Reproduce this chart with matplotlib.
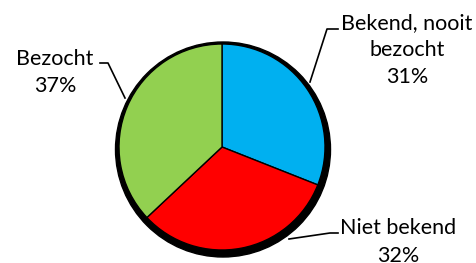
import matplotlib
matplotlib.use("Agg")
import matplotlib.pyplot as plt
from matplotlib.patches import Circle

labels = ["Bekend, nooit\nbezocht", "Niet bekend", "Bezocht"]
values = [31, 32, 37]
colors = ["#00B0F0", "#FF0000", "#92D050"]

W, H = 476, 263
fig = plt.figure(figsize=(W / 100, H / 100), dpi=100)
ax = fig.add_axes([0, 0, 1, 1])

cx, cy, r = 222, H - 147, 103
ax.add_patch(Circle((223, H - 149.5), 107.5, color="black", zorder=0))
ax.pie(values, colors=colors, startangle=90, counterclock=False,
       center=(cx, cy), radius=r, frame=True,
       wedgeprops=dict(edgecolor="black", linewidth=1))
ax.set_xlim(0, W)
ax.set_ylim(0, H)
ax.set_aspect("equal")
ax.axis("off")

font = dict(family="Lato", fontsize=15.5, color="black", ha="center",
            va="center", linespacing=1.45)
texts = [f"{labels[0]}\n{values[0]}%", f"{labels[1]}\n{values[1]}%",
         f"{labels[2]}\n{values[2]}%"]
ax.text(407, H - 50, texts[0], **font)
ax.text(398, H - 242, texts[1], **font)
ax.text(55, H - 72.5, texts[2], **font)

lk = dict(color="black", linewidth=1.2)
ax.plot([338, 327, 310], [H - 29, H - 29, H - 82], **lk)
ax.plot([338, 330, 289], [H - 233, H - 233, H - 239], **lk)
ax.plot([100, 108, 125], [H - 63, H - 63, H - 98], **lk)

fig.savefig("out.png", dpi=100)
